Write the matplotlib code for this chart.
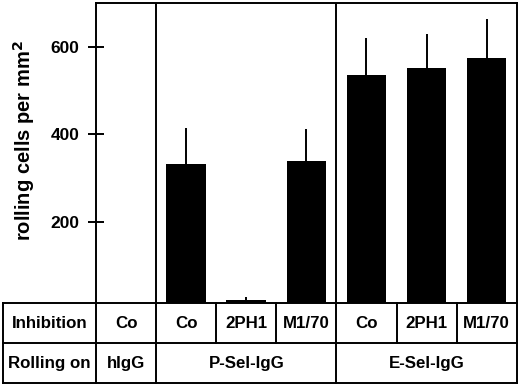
import matplotlib
matplotlib.use("Agg")
import matplotlib.pyplot as plt

plt.rcParams['font.family'] = ['Liberation Sans', 'DejaVu Sans']

# Data
inhibition = ["Co", "Co", "2PH1", "M1/70", "Co", "2PH1", "M1/70"]
rolling_on = ["hIgG", "P-Sel-IgG", "E-Sel-IgG"]
group_sizes = [1, 3, 3]
means = [0, 331, 22, 339, 535, 551, 575]
err_upper = [0, 84, 5, 72, 84, 79, 88]
yticks = [200, 400, 600]

W, H = 520, 387
fig = plt.figure(figsize=(W / 100, H / 100), dpi=100)

ax_l, ax_r, ax_t, ax_b = 96, 516.7, 3, 303
tbl_l, tbl_b = 3.3, 383.3
ax = fig.add_axes([ax_l / W, (H - ax_b) / H, (ax_r - ax_l) / W, (ax_b - ax_t) / H])

n = len(inhibition)
x = list(range(n))
xc = [i + 0.5 for i in x]
ax.bar(xc, means, width=0.66, color='black', zorder=2)
for xi, m, e in zip(xc, means, err_upper):
    if e > 0:
        ax.plot([xi, xi], [m, m + e], color='black', lw=1.4, zorder=3, solid_capstyle='butt')

ax.set_xlim(0, n)
ax.set_ylim(14, 700)
ax.set_xticks([])
ax.set_yticks(yticks)
ax.set_yticklabels([str(v) for v in yticks], fontweight='bold', fontsize=12.5)
ax.tick_params(axis='y', direction='inout', length=12, width=1.4, pad=6)
for s in ax.spines.values():
    s.set_linewidth(1.4)
ax.spines['bottom'].set_visible(False)

# group separators in the plot area
bounds = [0]
for g in group_sizes:
    bounds.append(bounds[-1] + g)
for b in bounds[1:-1]:
    ax.axvline(b, color='black', lw=1.4, zorder=4)

fig.text(24 / W, (H - 140.5) / H, "rolling cells per mm$^\\mathbf{2}$", rotation=90,
         ha='center', va='center', fontsize=14.5, fontweight='bold')

# Table below
tx0 = (tbl_l - ax_l) / 60.0
tax = fig.add_axes([tbl_l / W, (H - tbl_b) / H, (ax_r - tbl_l) / W, (tbl_b - ax_b) / H])
tax.set_xlim(tx0, n)
tax.set_ylim(0, 2)
tax.axis('off')
lw = 1.4
kw = dict(color='black', lw=lw, clip_on=False, solid_capstyle='projecting')
tax.plot([tx0, n], [2, 2], **kw)
tax.plot([tx0, n], [1, 1], **kw)
tax.plot([tx0, n], [0, 0], **kw)
tax.plot([tx0, tx0], [0, 2], **kw)
tax.plot([n, n], [0, 2], **kw)
tax.plot([0, 0], [0, 2], **kw)
for i in range(1, n):
    if i in bounds:
        tax.plot([i, i], [0, 2], **kw)
    else:
        tax.plot([i, i], [1, 2], **kw)

tfs = 12.2
tax.text((tx0 + 0) / 2, 1.5, "Inhibition", ha='center', va='center', fontsize=tfs, fontweight='bold')
tax.text((tx0 + 0) / 2, 0.5, "Rolling on", ha='center', va='center', fontsize=tfs, fontweight='bold')
for i, lab in enumerate(inhibition):
    tax.text(i + 0.5, 1.5, lab, ha='center', va='center', fontsize=tfs, fontweight='bold')
for gi, lab in enumerate(rolling_on):
    tax.text((bounds[gi] + bounds[gi + 1]) / 2, 0.5, lab, ha='center', va='center',
             fontsize=tfs, fontweight='bold')

fig.savefig("out.png", dpi=100)
